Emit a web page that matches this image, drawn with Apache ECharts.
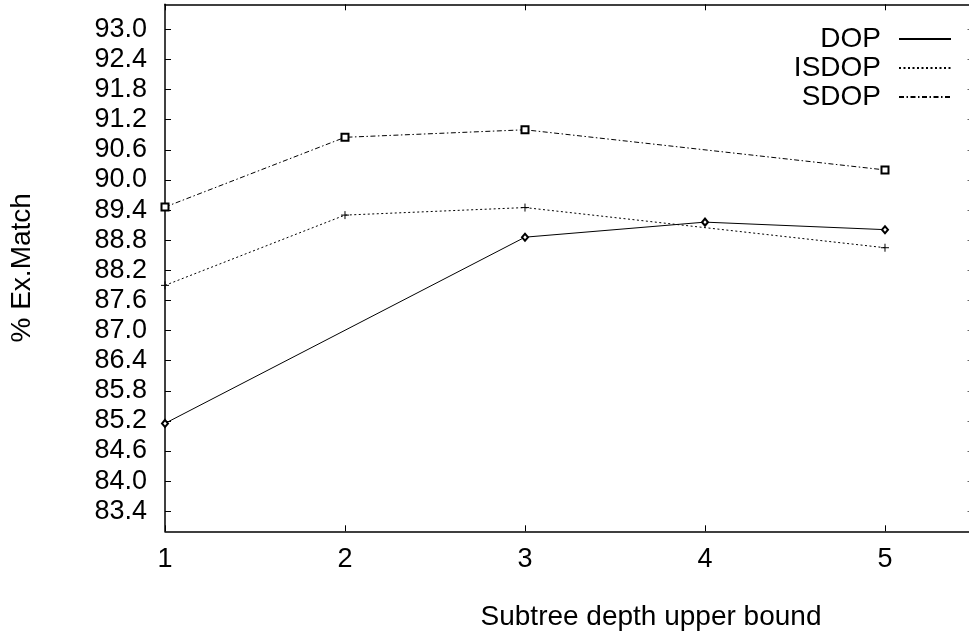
<!DOCTYPE html>
<html>
<head>
<meta charset="utf-8">
<title>Exact match vs subtree depth</title>
<script src="https://cdn.jsdelivr.net/npm/echarts@6/dist/echarts.min.js"></script>
<style>
  html, body { margin: 0; padding: 0; background: #fff; }
  #chart { width: 969px; height: 634px; }
</style>
</head>
<body>
<div id="chart"></div>
<script>
// Subtree depth upper bound on the x axis
const xTicks = [1, 2, 3, 4, 5];
const yTicks = [83.4, 84.0, 84.6, 85.2, 85.8, 86.4, 87.0, 87.6, 88.2, 88.8,
                89.4, 90.0, 90.6, 91.2, 91.8, 92.4, 93.0];

// % exact match per model
const depthDOP = [1, 3, 4, 5];
const matchDOP = [85.15, 88.86, 89.16, 89.01];

const depthISDOP = [1, 2, 3, 5];
const matchISDOP = [87.90, 89.30, 89.45, 88.65];

const depthSDOP = [1, 2, 3, 5];
const matchSDOP = [89.46, 90.85, 91.00, 90.20];

const pairs = (xs, ys) => xs.map((x, i) => [x, ys[i]]);

const FONT = '"Liberation Sans", Arial, Helvetica, sans-serif';
const INK = '#000';

const chart = echarts.init(document.getElementById('chart'), null, { renderer: 'canvas' });

// the plotted frame runs past the right edge of the page
const yRange = { min: 83.0, max: 93.5 };
const xRange = { min: 1, max: 5.4667 };

chart.setOption({
  animation: false,
  backgroundColor: '#fff',
  textStyle: { fontFamily: FONT, color: INK },
  grid: {
    left: 165, right: 0, top: 4.3, bottom: 102.7,
    containLabel: false,
    outerBoundsMode: 'none'
  },
  legend: {
    orient: 'vertical',
    right: 17,
    top: 24.5,
    padding: 0,
    align: 'right',
    itemWidth: 52,
    itemHeight: 14,
    itemGap: 0,
    itemStyle: { opacity: 0 },
    textStyle: { fontFamily: FONT, fontSize: 28, color: INK, lineHeight: 29, padding: [0, 13, 0, 0] },
    data: ['DOP', 'ISDOP', 'SDOP']
  },
  xAxis: [
    {
      type: 'value',
      position: 'bottom',
      min: xRange.min,
      max: xRange.max,
      name: 'Subtree depth upper bound',
      nameLocation: 'middle',
      nameGap: 72,
      nameTextStyle: { fontFamily: FONT, fontSize: 28, color: INK, padding: [0, 0, 0, 168] },
      axisLine: { show: true, onZero: false, lineStyle: { color: INK, width: 1.5 } },
      axisTick: { show: true, inside: true, length: 6, customValues: xTicks, lineStyle: { color: INK } },
      axisLabel: { customValues: xTicks, margin: 15, fontFamily: FONT, fontSize: 27, color: INK },
      splitLine: { show: false }
    },
    {
      type: 'value',
      position: 'top',
      min: xRange.min,
      max: xRange.max,
      axisLine: { show: true, onZero: false, lineStyle: { color: INK, width: 1.5 } },
      axisTick: { show: true, inside: true, length: 6, customValues: xTicks, lineStyle: { color: INK } },
      axisLabel: { show: false },
      splitLine: { show: false }
    }
  ],
  yAxis: [
    {
      type: 'value',
      position: 'left',
      min: yRange.min,
      max: yRange.max,
      name: '% Ex.Match',
      nameLocation: 'middle',
      nameGap: 129,
      nameTextStyle: { fontFamily: FONT, fontSize: 28, color: INK },
      axisLine: { show: true, onZero: false, lineStyle: { color: INK, width: 1.5 } },
      axisTick: { show: true, inside: true, length: 6, customValues: yTicks, lineStyle: { color: INK } },
      axisLabel: {
        customValues: yTicks, margin: 18, fontFamily: FONT, fontSize: 27, color: INK,
        formatter: v => v.toFixed(1)
      },
      splitLine: { show: false }
    },
    {
      // mirrored ticks; only their tips fall inside the page
      type: 'value',
      position: 'right',
      min: yRange.min,
      max: yRange.max,
      axisLine: { show: false },
      axisTick: { show: true, inside: true, length: 1.5, customValues: yTicks, lineStyle: { color: '#666' } },
      axisLabel: { show: false },
      splitLine: { show: false }
    }
  ],
  series: [
    {
      name: 'DOP',
      type: 'line',
      data: pairs(depthDOP, matchDOP),
      symbol: 'emptyDiamond',
      symbolSize: [6, 7],
      showSymbol: true,
      lineStyle: { color: INK, width: 1, type: 'solid' },
      itemStyle: { color: INK, borderColor: INK, borderWidth: 1 }
    },
    {
      name: 'ISDOP',
      type: 'line',
      data: pairs(depthISDOP, matchISDOP),
      symbol: 'path://M0,5H10M5,0V10',
      symbolSize: 8,
      showSymbol: true,
      lineStyle: { color: INK, width: 1, type: [2, 2.5] },
      itemStyle: { color: 'none', borderColor: INK, borderWidth: 1 }
    },
    {
      name: 'SDOP',
      type: 'line',
      data: pairs(depthSDOP, matchSDOP),
      symbol: 'emptyRect',
      symbolSize: 7,
      showSymbol: true,
      lineStyle: { color: INK, width: 1, type: [5, 2.5, 1.5, 2.5] },
      itemStyle: { color: INK, borderColor: INK, borderWidth: 0.8 }
    }
  ]
});
</script>
</body>
</html>
